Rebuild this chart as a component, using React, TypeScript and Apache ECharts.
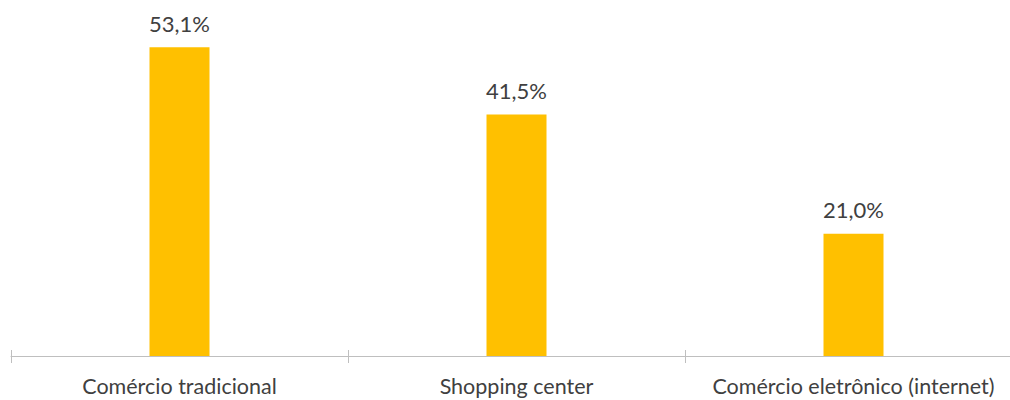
import React, { useEffect, useRef } from "react";
import * as echarts from "echarts";

const categories = ["Comércio tradicional", "Shopping center", "Comércio eletrônico (internet)"];
const values = [53.1, 41.5, 21.0];

export default function App() {
  const ref = useRef<HTMLDivElement>(null);
  useEffect(() => {
    if (!ref.current) return;
    const chart = echarts.init(ref.current, undefined, { renderer: "svg" });
    const font = "Lato, 'Open Sans', sans-serif";
    chart.setOption({
      animation: false,
      grid: { left: 11, right: 0, top: 7, bottom: 44 },
      xAxis: [
        {
          type: "category",
          data: categories,
          axisLine: { lineStyle: { color: "#bfbfbf", width: 1 } },
          axisTick: { show: true, length: 7, lineStyle: { color: "#bfbfbf" } },
          axisLabel: { color: "#404040", fontSize: 21.5, fontFamily: font, margin: 19, interval: 0, hideOverlap: false },
        },
        {
          type: "category",
          data: categories,
          position: "bottom",
          axisLine: { show: false },
          axisTick: { show: true, inside: true, length: 6, lineStyle: { color: "#bfbfbf" } },
          axisLabel: { show: false },
        },
      ],
      yAxis: { type: "value", min: 0, max: 60, show: false, splitLine: { show: false } },
      series: [
        {
          type: "bar",
          data: values,
          barWidth: 60,
          itemStyle: { color: "#ffc000" },
          label: {
            show: true,
            position: "top",
            distance: 13,
            color: "#404040",
            fontSize: 22,
            fontFamily: font,
            formatter: (p: any) => p.value.toFixed(1).replace(".", ",") + "%",
          },
        },
      ],
    });
    return () => chart.dispose();
  }, []);
  return (
    <div style={{ position: "absolute", left: 0, top: 0, width: 1010, height: 400, overflow: "hidden", background: "#fff" }}>
      <div ref={ref} style={{ width: 1022, height: 400 }} />
    </div>
  );
}
